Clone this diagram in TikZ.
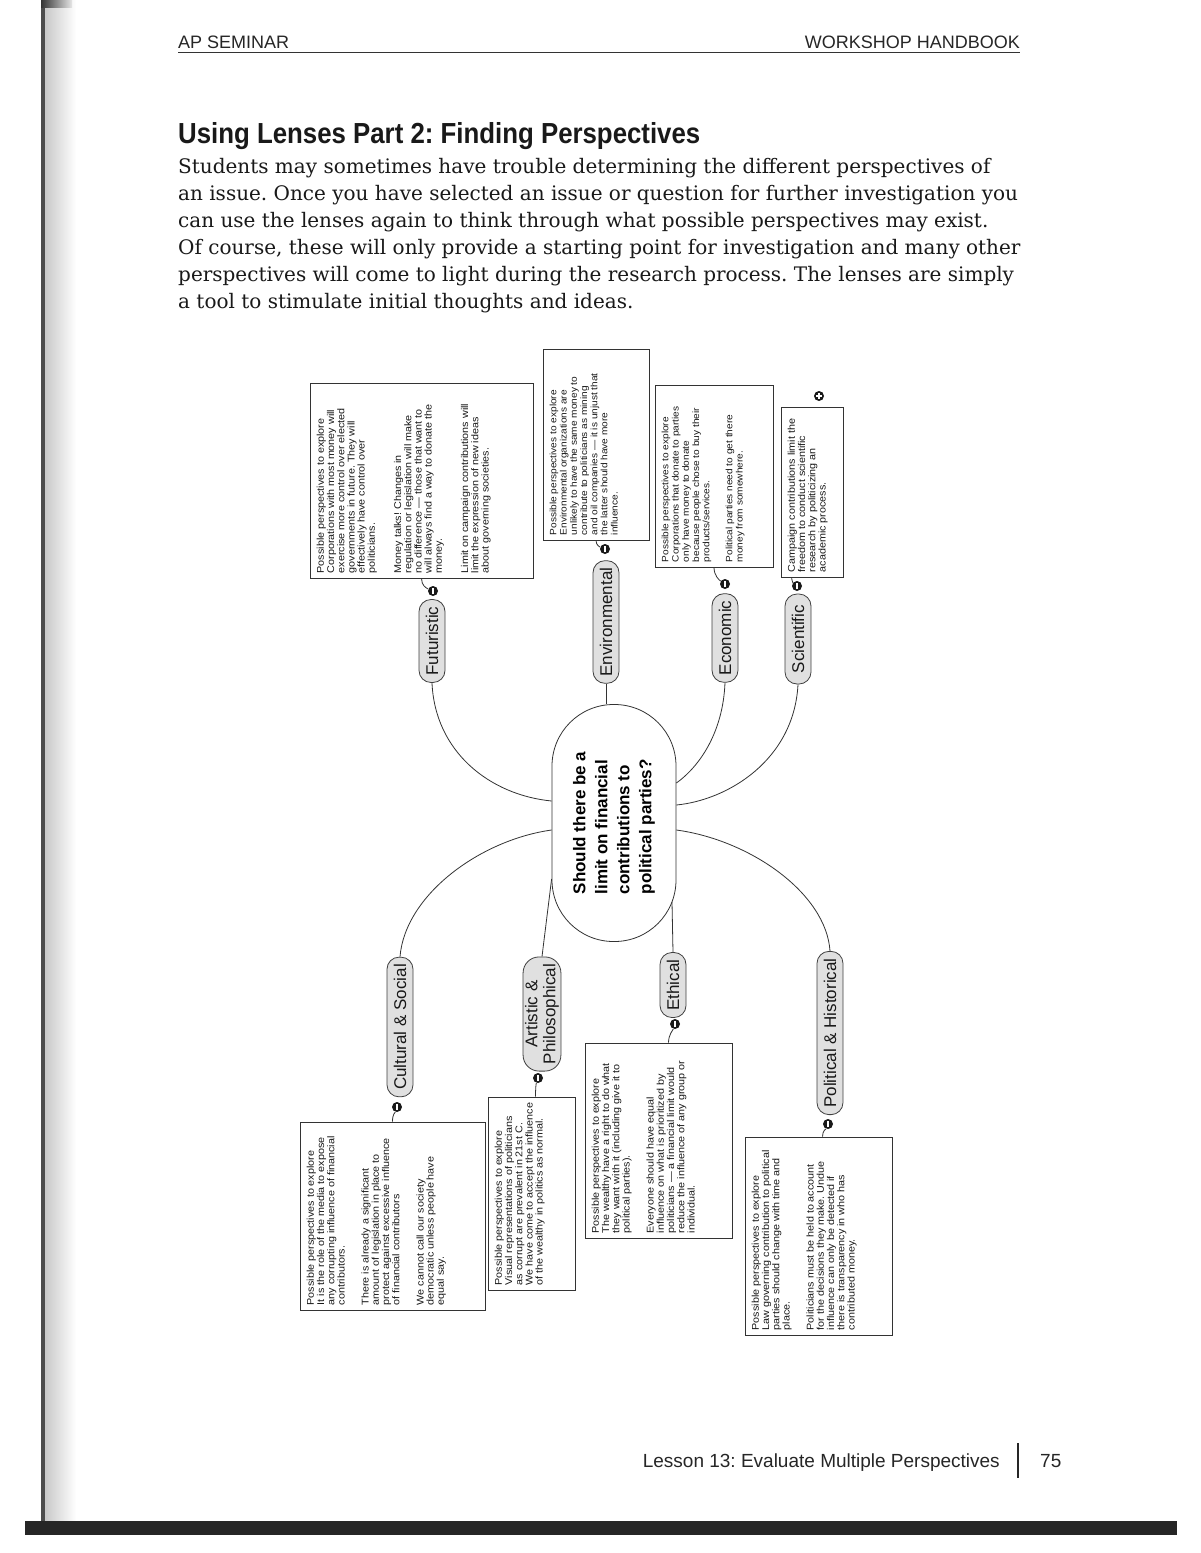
\documentclass[tikz,border=0pt]{standalone}
\usepackage{fontspec}
\setmainfont{Liberation Sans}
\newfontfamily\serifbody{DejaVu Serif}
\newfontfamily\boxfont[FakeStretch=1.10]{Liberation Sans}
\usetikzlibrary{calc}
\frenchspacing
\begin{document}
\begin{tikzpicture}[x=1pt,y=-1pt,
  link/.style={draw=black!80, line width=0.8pt},
  hdr/.style={inner sep=0pt, text=black!85, font=\fontsize{18}{20}\selectfont},
  bodyline/.style={inner sep=0pt, anchor=base west, text=black!90, font=\serifbody\fontsize{20}{27}\selectfont},
  tbox/.style 2 args={draw=black!80, line width=0.8pt, fill=white, rotate=90, minimum width=#1, minimum height=#2, inner sep=0pt},
  btext/.style={rotate=90, anchor=north west, inner xsep=5pt, inner ysep=7pt, align=left, text=black!90, font=\boxfont\fontsize{9.8}{10.2}\selectfont},
  btextsmall/.style={btext, font=\boxfont\fontsize{9.2}{10.2}\selectfont},
  lens/.style={draw=black!75, line width=0.8pt, fill=black!12, rounded corners=12pt, rotate=90, minimum height=26pt, inner xsep=7pt, inner ysep=2pt, align=center, text=black!90, font=\fontsize{17}{18}\selectfont},
  knob/.style={circle, fill=black!90, inner sep=0pt, minimum size=10pt, path picture={\draw[white, line width=1.4pt] ([yshift=-3pt]path picture bounding box.center) -- ([yshift=3pt]path picture bounding box.center);}},
  knobplus/.style={knob, path picture={\draw[white, line width=1.4pt] ([yshift=-3pt]path picture bounding box.center) -- ([yshift=3pt]path picture bounding box.center) ([xshift=-3pt]path picture bounding box.center) -- ([xshift=3pt]path picture bounding box.center);}}
]
\useasboundingbox (0,0) rectangle (1200,1553);
\fill[white] (0,0) rectangle (1200,1553);

% page edge artifacts
\shade[left color=black!22, right color=white] (44,0) rectangle (76,1528);
\fill[black!70] (41,0) rectangle (45,1528);
\shade[left color=black!80, right color=black!10] (41,0) rectangle (72,7);
\fill[black!85] (25,1521) rectangle (1177,1535);

% header
\node[hdr, anchor=base west] (hl) at (178,48) {AP SEMINAR};
\node[hdr, anchor=base east] (hr) at (1020,48) {WORKSHOP HANDBOOK};
\draw[black!80, line width=0.9pt] (hl.south west |- 0,52) -- (hr.south east |- 0,52);

% title and intro
\node[inner sep=0pt, anchor=base west, text=black!90, font=\bfseries\fontsize{29}{32}\selectfont] (title) at (178,143) {\scalebox{0.89}[1]{Using Lenses Part 2: Finding Perspectives}};
\node[bodyline] (p1) at (178,173) {Students may sometimes have trouble determining the different perspectives of};
\node[bodyline] (p2) at (178,200) {an issue. Once you have selected an issue or question for further investigation you};
\node[bodyline] (p3) at (178,227) {can use the lenses again to think through what possible perspectives may exist.};
\node[bodyline] (p4) at (178,254) {Of course, these will only provide a starting point for investigation and many other};
\node[bodyline] (p5) at (178,281) {perspectives will come to light during the research process. The lenses are simply};
\node[bodyline] (p6) at (178,308) {a tool to stimulate initial thoughts and ideas.};

% central question
\node[draw=black!80, line width=0.8pt, fill=white, rotate=90, minimum width=237pt, minimum height=124pt, rounded corners=61.5pt, inner sep=0pt, align=left, text=black, font=\bfseries\fontsize{17}{22}\selectfont] (c) at (614,823) {Should there be a\\limit on financial\\contributions to\\political parties?};

% lenses
\node[lens] (fu) at (432,641) {Futuristic};
\node[lens] (en) at (606,622) {Environmental};
\node[lens] (ec) at (725,638) {Economic};
\node[lens, minimum width=90pt] (sc) at (798,639) {Scientific};
\node[lens] (cu) at (400,1027) {Cultural \& Social};
\node[lens, rounded corners=16pt] (ar) at (542,1014) {Artistic \&\\Philosophical};
\node[lens] (et) at (673,985) {Ethical};
\node[lens] (po) at (830,1033) {Political \& Historical};

% connectors centre - lenses
\draw[link] (fu.west) .. controls (435,752) and (490,795) .. ($(c.north)+(0,-22)$);
\draw[link] (en.west) -- (en.west |- c.east);
\draw[link] (ec.west) .. controls (723,732) and (700,766) .. ($(c.south)+(0,-40)$);
\draw[link] (sc.west) .. controls (794,760) and (728,800) .. ($(c.south)+(0,-18)$);
\draw[link] ($(c.north)+(0,7)$) .. controls (480,840) and (405,895) .. (cu.east);
\draw[link] ($(c.north)+(0,56)$) -- (ar.east);
\draw[link] ($(c.west)+(58,-40)$) -- (et.east);
\draw[link] ($(c.south)+(0,7)$) .. controls (750,840) and (826,893) .. (po.east);

% knobs
\node[knob] (fuk) at (433,591) {};
\node[knob] (enk) at (605,549) {};
\node[knob] (eck) at (725,584) {};
\node[knob] (sck) at (797,586) {};
\node[knobplus] (sbk) at (819,396) {};
\node[knob] (cuk) at (397,1107) {};
\node[knob] (ark) at (538,1078) {};
\node[knob] (etk) at (675,1024) {};
\node[knob] (pok) at (828,1124) {};

% top text boxes
\node[tbox={195pt}{223pt}] (fb) at (421.5,480.5) {};
\node[btext] (fbt) at (fb.north west) {Possible perspectives to explore\\Corporations with most money will\\exercise more control over elected\\governments in future. They will\\effectively have control over\\politicians.\\[16pt]Money talks! Changes in\\regulation or legislation will make\\no difference — those that want to\\will always find a way to donate the\\money.\\[16pt]Limit on campaign contributions will\\limit the expression of new ideas\\about governing societies.};

\node[tbox={191pt}{106pt}] (eb) at (596,444.5) {};
\node[btextsmall] (ebt) at (eb.north west) {Possible perspectives to explore\\Environmental organizations are\\unlikely to have the same money to\\contribute to politicians as mining\\and oil companies — it is unjust that\\the latter should have more\\influence.};

\node[tbox={182pt}{118pt}] (ecb) at (714,476) {};
\node[btextsmall] (ecbt) at (ecb.north west) {Possible perspectives to explore\\Corporations that donate to parties\\only have money to donate\\because people chose to buy their\\products/services.\\[13pt]Political parties need to get there\\money from somewhere.};

\node[tbox={170pt}{62pt}] (sb) at (812,492) {};
\node[btext] (sbt) at (sb.north west) {Campaign contributions limit the\\freedom to conduct scientific\\research by politicizing an\\academic process.};

% bottom text boxes
\node[tbox={188pt}{185pt}] (cb) at (392.5,1216) {};
\node[btext] (cbt) at (cb.north west) {Possible perspectives to explore\\It is the role of the media to expose\\any corrupting influence of financial\\contributors.\\[14pt]There is already a significant\\amount of legislation in place to\\protect against excessive influence\\of financial contributors\\[14pt]We cannot call our society\\democratic unless people have\\equal say.};

\node[tbox={193pt}{87pt}] (ab) at (531.5,1193.5) {};
\node[btext] (abt) at (ab.north west) {Possible perspectives to explore\\Visual representations of politicians\\as corrupt are prevalent in 21st C.\\We have come to accept the influence\\of the wealthy in politics as normal.};

\node[tbox={195pt}{147pt}] (etb) at (658.5,1140.5) {};
\node[btext] (etbt) at (etb.north west) {Possible perspectives to explore\\The wealthy have a right to do what\\they want with it (including give it to\\political parties).\\[14pt]Everyone should have equal\\influence on what is prioritized by\\politicians — a financial limit would\\reduce the influence of any group or\\individual.};

\node[tbox={198pt}{147pt}] (pb) at (818.5,1236) {};
\node[btext] (pbt) at (pb.north west) {Possible perspectives to explore\\Law governing contribution to political\\parties should change with time and\\place.\\[14pt]Politicians must be held to account\\for the decisions they make. Undue\\influence can only be detected if\\there is transparency in who has\\contributed money.};

% box - knob connectors
\draw[link] (fb.west) .. controls +(0,7) and +(-7,-3) .. (fuk);
\draw[link] (eb.west) .. controls +(0,5) and +(-5,-2) .. (enk);
\draw[link] (ecb.west) .. controls +(0,8) and +(-6,-4) .. (eck);
\draw[link] ($(sb.north west)+(11,0)$) .. controls +(0,4) and +(-3,-2) .. (sck);
\draw[link] (cuk) .. controls +(-2,6) and +(0,-8) .. (cb.east);
\draw[link] (ark) .. controls +(-2,6) and +(0,-8) .. ($(ab.east)+(4,0)$);
\draw[link] (etk) .. controls +(-2,6) and +(0,-8) .. ($(etb.east)+(10,0)$);
\draw[link] (pok) .. controls +(-2,5) and +(0,-6) .. ($(pb.east)+(4,0)$);

% footer
\node[inner sep=0pt, anchor=base east, text=black!85, font=\fontsize{19}{21}\selectfont] (ft) at (1000,1467) {Lesson 13: Evaluate Multiple Perspectives};
\node[inner sep=0pt, anchor=base west, text=black!85, font=\fontsize{19}{21}\selectfont] (pg) at (1040,1467) {75};
\draw[black!85, line width=1.4pt] (1018,1443) -- (1018,1478);
\end{tikzpicture}
\end{document}
